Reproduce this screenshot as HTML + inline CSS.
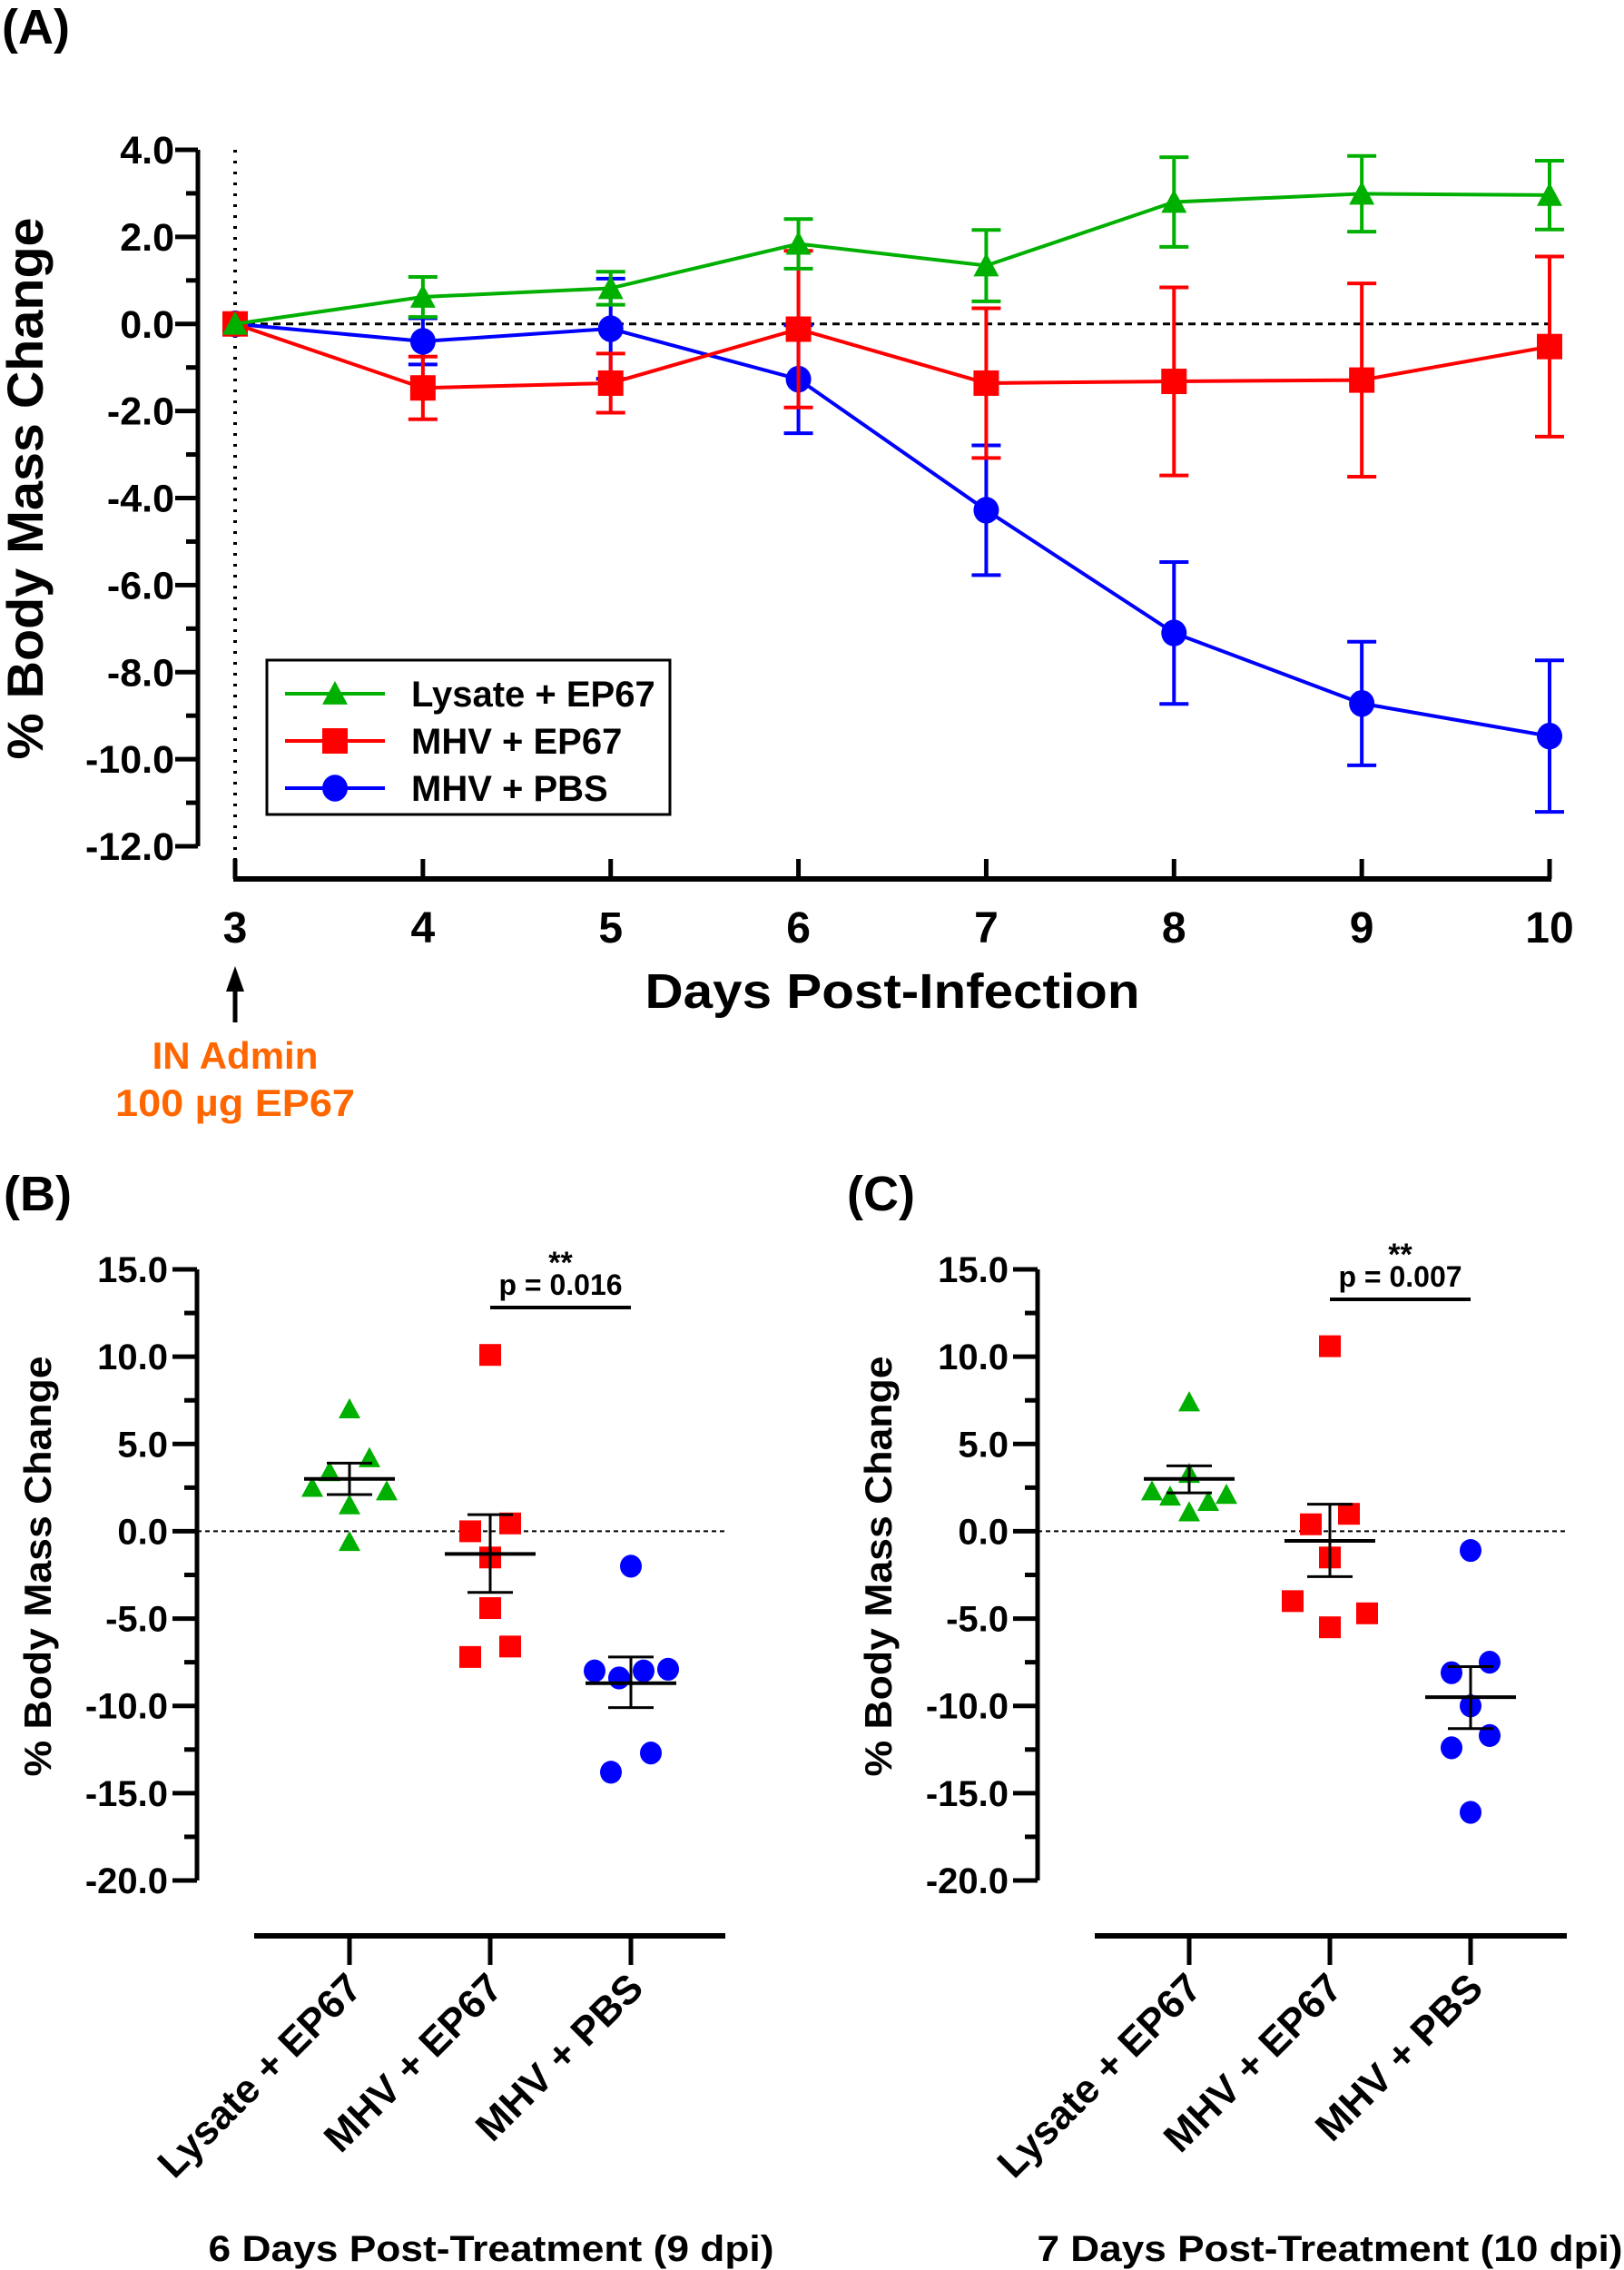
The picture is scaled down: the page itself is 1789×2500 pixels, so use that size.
<!DOCTYPE html>
<html><head><meta charset="utf-8">
<style>
html,body{margin:0;padding:0;background:#fff;}
svg{display:block;font-family:"Liberation Sans",Arial,sans-serif;font-weight:bold;}
</style></head>
<body>
<svg id="fig" width="1789" height="2500" viewBox="0 0 1789 2500" xmlns="http://www.w3.org/2000/svg">
<g id="root"></g>
</svg>
<script>
// ---------- Panel A data ----------
const daysA = [3,4,5,6,7,8,9,10];
const lysateMean = [0,0.62,0.82,1.84,1.34,2.80,2.99,2.96];
const lysateErr  = [0,0.46,0.38,0.57,0.82,1.03,0.87,0.79];
const mhvEpMean  = [0,-1.47,-1.36,-0.12,-1.36,-1.32,-1.29,-0.52];
const mhvEpErr   = [0,0.72,0.68,1.80,1.72,2.16,2.22,2.07];
const mhvPbsMean = [0,-0.40,-0.11,-1.27,-4.28,-7.10,-8.72,-9.47];
const mhvPbsErr  = [0,0.53,1.15,1.24,1.49,1.63,1.42,1.74];
const yTicksA = [4,2,0,-2,-4,-6,-8,-10,-12];
const xTickLabelsA = ["3","4","5","6","7","8","9","10"];
const seriesNamesA = ["Lysate + EP67","MHV + EP67","MHV + PBS"];

// ---------- Panel B data (9 dpi) ----------
const groupsBC = ["Lysate + EP67","MHV + EP67","MHV + PBS"];
const bLysate = [7.0,4.2,3.4,2.5,2.3,1.5,-0.6];
const bMhvEp  = [10.1,0.45,0.0,-1.5,-4.4,-6.6,-7.2];
const bMhvPbs = [-2.0,-8.0,-8.4,-8.0,-7.9,-12.7,-13.8];
const bMean = [3.0,-1.3,-8.7];
const bSemHi = [3.9,0.95,-7.2];
const bSemLo = [2.1,-3.5,-10.1];
// ---------- Panel C data (10 dpi) ----------
const cLysate = [7.4,2.3,2.0,3.3,1.7,2.1,1.1];
const cMhvEp  = [10.6,0.4,1.0,-1.5,-4.0,-4.7,-5.5];
const cMhvPbs = [-1.1,-8.1,-7.5,-10.0,-12.4,-11.7,-16.1];
const cMean = [3.0,-0.55,-9.5];
const cSemHi = [3.75,1.55,-7.75];
const cSemLo = [2.2,-2.6,-11.3];
const yTicksBC = [15,10,5,0,-5,-10,-15,-20];

const NS="http://www.w3.org/2000/svg";
const root=document.getElementById('root');
const GREEN="#00b000", RED="#ff0000", BLUE="#0000ff";
function el(tag,attrs,parent){const e=document.createElementNS(NS,tag);for(const k in attrs)e.setAttribute(k,attrs[k]);(parent||root).appendChild(e);return e;}
function txt(s,attrs,parent){const e=el('text',attrs,parent);e.textContent=s;return e;}

// ===== Panel A =====
const xA=d=>259+(d-3)*(1707-259)/7;
const yA=v=>165+(4-v)*(932-165)/16;
const AX=968;
const gA=el('g',{});


let t=txt("(A)",{x:2,y:48,'font-size':54},gA);

let ya=el('line',{x1:218,y1:yA(4),x2:218,y2:yA(-12),stroke:'#000','stroke-width':5},gA);

for(let v=4;v>=-12;v--){
  const major=(v%2===0);
  el('line',{x1:major?193:205,y1:yA(v),x2:218,y2:yA(v),stroke:'#000','stroke-width':5},gA);
}
yTicksA.forEach(v=>{
  const l=txt(v.toFixed(1),{x:192,y:yA(v)+15,'font-size':43,'text-anchor':'end'},gA);
  
  
});
t=txt("% Body Mass Change",{x:0,y:0,'font-size':56,'text-anchor':'middle',transform:'translate(47,538) rotate(-90)',textLength:597,lengthAdjust:'spacingAndGlyphs'},gA);

let xa=el('line',{x1:xA(3)-2,y1:AX,x2:xA(10)+2,y2:AX,stroke:'#000','stroke-width':6},gA);

daysA.forEach((d,i)=>{
  el('line',{x1:xA(d),y1:AX-22,x2:xA(d),y2:AX,stroke:'#000','stroke-width':5},gA);
  const l=txt(xTickLabelsA[i],{x:xA(d),y:1038,'font-size':48,'text-anchor':'middle'},gA);
  
  
});
t=txt("Days Post-Infection",{x:983,y:1110,'font-size':54,'text-anchor':'middle',textLength:545,lengthAdjust:'spacingAndGlyphs'},gA);

let rl=el('line',{x1:xA(3),y1:yA(4),x2:xA(3),y2:AX,stroke:'#000','stroke-width':4,'stroke-dasharray':'3,9'},gA);

rl=el('line',{x1:xA(3),y1:yA(0),x2:xA(10),y2:yA(0),stroke:'#000','stroke-width':3,'stroke-dasharray':'8,6'},gA);

el('line',{x1:xA(3),y1:1126,x2:xA(3),y2:1085,stroke:'#000','stroke-width':5},gA);
let ar=el('polygon',{points:`${xA(3)-10},${1092} ${xA(3)+10},${1092} ${xA(3)},${1064}`,fill:'#000'},gA);

t=txt("IN Admin",{x:xA(3),y:1177,'font-size':42,'text-anchor':'middle',fill:'#ff6600'},gA);

t=txt("100 µg EP67",{x:xA(3),y:1229,'font-size':42,'text-anchor':'middle',fill:'#ff6600',textLength:264,lengthAdjust:'spacingAndGlyphs'},gA);


function marker(shape,cx,cy,color,parent,size){
  const s=size||13;
  if(shape==='tri') return el('polygon',{points:`${cx-s},${cy+s*0.85} ${cx+s},${cy+s*0.85} ${cx},${cy-s*1.0}`,fill:color},parent);
  if(shape==='sq') return el('rect',{x:cx-s,y:cy-s,width:2*s,height:2*s,fill:color},parent);
  return el('ellipse',{cx:cx,cy:cy,rx:s,ry:s*1.05,fill:color},parent);
}
const seriesA=[
 {m:mhvPbsMean,e:mhvPbsErr,c:BLUE,s:'circ',n:'series-mhv-pbs'},
 {m:mhvEpMean,e:mhvEpErr,c:RED,s:'sq',n:'series-mhv-ep67'},
 {m:lysateMean,e:lysateErr,c:GREEN,s:'tri',n:'series-lysate-ep67'}
];
seriesA.forEach(S=>{
  const g=el('g',{},gA);
  
  
  const pts=daysA.map((d,i)=>`${xA(d)},${yA(S.m[i])}`).join(' ');
  el('polyline',{points:pts,fill:'none',stroke:S.c,'stroke-width':4},g);
  daysA.forEach((d,i)=>{
    if(S.e[i]>0){
      const x=xA(d),hi=yA(S.m[i]+S.e[i]),lo=yA(S.m[i]-S.e[i]);
      el('line',{x1:x,y1:hi,x2:x,y2:lo,stroke:S.c,'stroke-width':4},g);
      el('line',{x1:x-16,y1:hi,x2:x+16,y2:hi,stroke:S.c,'stroke-width':4},g);
      el('line',{x1:x-16,y1:lo,x2:x+16,y2:lo,stroke:S.c,'stroke-width':4},g);
    }
    const mk=marker(S.s,xA(d),yA(S.m[i]),S.c,g,14);
    
    
  });
});
const lg=el('g',{},gA);


el('rect',{x:294,y:727,width:444,height:170,fill:'#fff',stroke:'#000','stroke-width':3},lg);
const legC=[GREEN,RED,BLUE], legS=['tri','sq','circ'], legY=[764,816,868];
seriesNamesA.forEach((n,i)=>{
  const e=el('g',{},lg);
  
  
  el('line',{x1:314,y1:legY[i],x2:424,y2:legY[i],stroke:legC[i],'stroke-width':4},e);
  marker(legS[i],369,legY[i],legC[i],e,14);
  txt(n,{x:453,y:legY[i]+14,'font-size':40},e);
});

// ===== Panels B & C =====
const yB=v=>1398+(15-v)*(673/35);
function scatterPanel(opt){
  const g=el('g',{});
  
  
  const ax=opt.ax;
  let t=txt(opt.label,{x:opt.labelX,y:1333,'font-size':54},g);
  
  const y=el('line',{x1:ax,y1:yB(15),x2:ax,y2:yB(-20),stroke:'#000','stroke-width':5},g);
  
  for(let v=15;v>=-20;v-=2.5){
    const major=(v%5===0);
    el('line',{x1:major?ax-27:ax-14,y1:yB(v),x2:ax,y2:yB(v),stroke:'#000','stroke-width':5},g);
  }
  yTicksBC.forEach(v=>{
    const l=txt(v.toFixed(1),{x:ax-32,y:yB(v)+14,'font-size':40,'text-anchor':'end'},g);
    
    
  });
  t=txt("% Body Mass Change",{x:0,y:0,'font-size':42,'text-anchor':'middle',transform:`translate(${opt.titleX},1725) rotate(-90)`,textLength:463,lengthAdjust:'spacingAndGlyphs'},g);
  
  const z=el('line',{x1:ax,y1:yB(0),x2:opt.axEnd,y2:yB(0),stroke:'#000','stroke-width':2,'stroke-dasharray':'5,4'},g);
  
  const xl=el('line',{x1:opt.axStart,y1:2132,x2:opt.axEnd,y2:2132,stroke:'#000','stroke-width':6},g);
  
  const xc=i=>opt.cx0+i*opt.step;
  groupsBC.forEach((n,i)=>{
    el('line',{x1:xc(i),y1:2132,x2:xc(i),y2:2164,stroke:'#000','stroke-width':5},g);
    const l=txt(n,{x:0,y:0,'font-size':44,'text-anchor':'end',transform:`translate(${xc(i)+16},2192) rotate(-45)`},g);
    
    
  });
  const colors=[GREEN,RED,BLUE], shapes=['tri','sq','circ'];
  opt.data.forEach((arr,gi)=>{
    const gg=el('g',{},g);
    
    
    arr.forEach((v,k)=>{
      const mk=marker(shapes[gi],xc(gi)+opt.jit[gi][k],yB(v),colors[gi],gg,12);
      
      
    });
    const cx=xc(gi),m=yB(opt.mean[gi]),hi=yB(opt.hi[gi]),lo=yB(opt.lo[gi]);
    const mb=el('line',{x1:cx-50,y1:m,x2:cx+50,y2:m,stroke:'#000','stroke-width':4},gg);
    
    el('line',{x1:cx,y1:hi,x2:cx,y2:lo,stroke:'#000','stroke-width':3},gg);
    el('line',{x1:cx-25,y1:hi,x2:cx+25,y2:hi,stroke:'#000','stroke-width':3},gg);
    el('line',{x1:cx-25,y1:lo,x2:cx+25,y2:lo,stroke:'#000','stroke-width':3},gg);
  });
  const sg=el('g',{},g);
  
  
  const mid=(xc(1)+xc(2))/2;
  txt("**",{x:mid,y:opt.sigY-38,'font-size':34,'text-anchor':'middle'},sg);
  txt(opt.p,{x:mid,y:opt.sigY-14,'font-size':32,'text-anchor':'middle'},sg);
  el('line',{x1:xc(1),y1:opt.sigY,x2:xc(2),y2:opt.sigY,stroke:'#000','stroke-width':4},sg);
  t=txt(opt.bottom,{x:opt.bottomX,y:2490,'font-size':40,'text-anchor':'middle',textLength:opt.bottomW,lengthAdjust:'spacingAndGlyphs'},g);
  
}
const jitB=[[0,22,-22,-41,41,0,0],[0,22,-22,0,0,22,-22],[0,-40,-13,14,41,22,-22]];
const jitC=[[0,-41,-21,0,21,41,0],[0,-21,21,0,-41,41,0],[0,-21,21,0,-21,21,0]];
scatterPanel({name:'panel-b',label:'(B)',labelX:4,ax:217,titleX:56,axStart:280,axEnd:799,cx0:385,step:155,
  data:[bLysate,bMhvEp,bMhvPbs],mean:bMean,hi:bSemHi,lo:bSemLo,jit:jitB,p:'p = 0.016',sigY:1440,
  bottom:'6 Days Post-Treatment (9 dpi)',bottomX:541,bottomW:623});
scatterPanel({name:'panel-c',label:'(C)',labelX:933,ax:1143,titleX:982,axStart:1206,axEnd:1726,cx0:1310,step:155,
  data:[cLysate,cMhvEp,cMhvPbs],mean:cMean,hi:cSemHi,lo:cSemLo,jit:jitC,p:'p = 0.007',sigY:1431,
  bottom:'7 Days Post-Treatment (10 dpi)',bottomX:1465,bottomW:645});
</script>
</body></html>
